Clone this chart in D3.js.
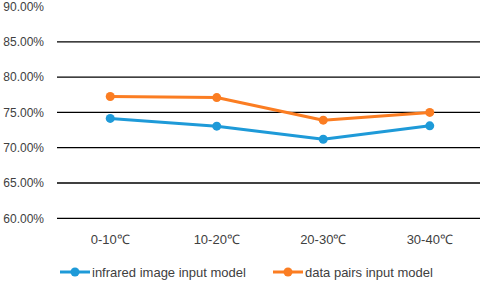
<!DOCTYPE html>
<html><head><meta charset="utf-8">
<script src="https://cdn.jsdelivr.net/npm/d3@7"></script>
<style>body{margin:0;background:#fff}svg{display:block}text{font-family:"Liberation Sans",Arial,sans-serif;fill:#404040}</style>
</head><body><svg id="c" width="484" height="282"></svg>
<script>
const categories = ["0-10℃","10-20℃","20-30℃","30-40℃"];
const seriesNames = ["infrared image input model","data pairs input model"];
const infrared = [74.15, 73.05, 71.2, 73.1];
const dataPairs = [77.25, 77.1, 73.9, 75.0];
const yTicks = [60,65,70,75,80,85,90];
const colors = ["#1e9ad8","#fb7d22"];

const svg = d3.select("#c");
const x = d3.scaleBand().domain(categories).range([57,483]);
const y = d3.scaleLinear().domain([60,90]).range([218.3,6.5]);

svg.append("g").selectAll("line").data(yTicks.filter(d=>d<90)).join("line")
  .attr("x1",57).attr("x2",480).attr("y1",d=>y(d)).attr("y2",d=>y(d))
  .attr("stroke","#000").attr("stroke-width",1.3);

const yAxis = d3.axisLeft(y).tickValues(yTicks).tickSize(0).tickPadding(0).tickFormat(d=>d.toFixed(2)+"%");
const ya = svg.append("g").attr("transform","translate(44,0)").call(yAxis);
ya.select(".domain").remove();
ya.selectAll("text").attr("font-size",12).attr("fill","#404040").style("font-family","Liberation Sans, Arial, sans-serif");

const xAxis = d3.axisBottom(x).tickSize(0).tickPadding(0);
const xa = svg.append("g").attr("transform","translate(0,235)").call(xAxis);
xa.select(".domain").remove();
xa.selectAll("text").attr("font-size",13).attr("fill","#404040").style("font-family","Liberation Sans, Arial, sans-serif");

const cx = d => x(d) + x.bandwidth()/2;
[infrared, dataPairs].forEach((vals,i)=>{
  const pts = categories.map((c,j)=>[cx(c), y(vals[j])]);
  svg.append("path").attr("d", d3.line()(pts)).attr("fill","none")
    .attr("stroke",colors[i]).attr("stroke-width",3).attr("stroke-linejoin","round");
  svg.append("g").selectAll("circle").data(pts).join("circle")
    .attr("cx",d=>d[0]).attr("cy",d=>d[1]).attr("r",4.5).attr("fill",colors[i]);
});

const lg = svg.append("g");
const lx = [60, 273];
seriesNames.forEach((n,i)=>{
  const g = lg.append("g").attr("transform",`translate(${lx[i]},272)`);
  g.append("line").attr("x1",0).attr("x2",30).attr("y1",0).attr("y2",0).attr("stroke",colors[i]).attr("stroke-width",3);
  g.append("circle").attr("cx",15).attr("cy",0).attr("r",4.5).attr("fill",colors[i]);
  g.append("text").attr("x",32).attr("y",4.5).attr("font-size",13).text(n);
});
</script></body></html>
